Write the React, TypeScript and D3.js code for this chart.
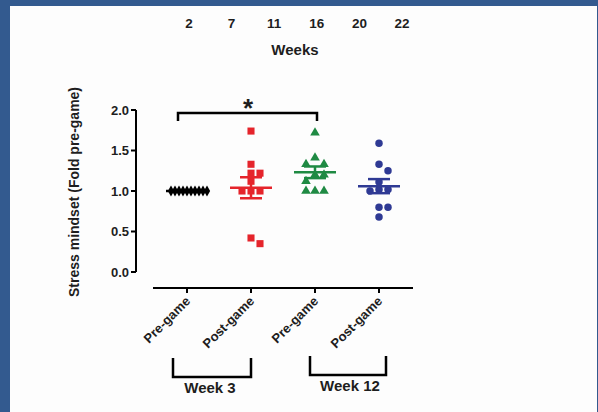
import React from 'react';
import * as d3 from 'd3';

// categories along the bottom axis
const categories = ['Pre-game', 'Post-game', 'Pre-game', 'Post-game'];
// fold change per subject
const preWeek3 = [1, 1, 1, 1, 1, 1, 1, 1, 1, 1];
const postWeek3 = [1.74, 1.33, 1.22, 1.22, 1.12, 1.0, 1.0, 1.0, 0.42, 0.35];
const preWeek12 = [1.72, 1.41, 1.33, 1.33, 1.2, 1.2, 1.12, 1.0, 1.0, 1.0];
const postWeek12 = [1.59, 1.33, 1.25, 1.11, 1.02, 1.02, 1.0, 0.8, 0.8, 0.68];
const weekTicks = [2, 7, 11, 16, 20, 22];
const yTicks = [0, 0.5, 1.0, 1.5, 2.0];

const W = 598;
const H = 412;
const FONT = '"Liberation Sans", Arial, sans-serif';
const INK = '#1e1e1e';

const groups = [
  { values: preWeek3, color: '#000000', shape: d3.symbolDiamond, size: 34, step: 4 },
  { values: postWeek3, color: '#e5242b', shape: d3.symbolSquare, size: 50, step: 9 },
  { values: preWeek12, color: '#1f8a43', shape: d3.symbolTriangle, size: 40, step: 9 },
  { values: postWeek12, color: '#2f3a94', shape: d3.symbolCircle, size: 44, step: 9 },
];

// simple beeswarm: push points sideways when they would overlap
function swarm(values: number[], y: (v: number) => number, step: number) {
  const placed: { dx: number; py: number }[] = [];
  return values.map((v) => {
    const py = y(v);
    let k = 0;
    let dx = 0;
    while (true) {
      dx = k === 0 ? 0 : (k % 2 === 1 ? 1 : -1) * Math.ceil(k / 2) * step;
      const hit = placed.some((p) => Math.abs(p.py - py) < 7 && Math.abs(p.dx - dx) < step * 0.9);
      if (!hit) break;
      k++;
    }
    placed.push({ dx, py });
    return { v, dx, py };
  });
}

export default function App() {
  const x = d3.scaleBand<number>().domain(d3.range(categories.length)).range([155, 411]).padding(0);
  const cx = (i: number) => (x(i) as number) + x.bandwidth() / 2;
  const y = d3.scaleLinear().domain([0, 2]).range([272, 110]);
  const top = d3.scalePoint<number>().domain(weekTicks).range([189, 402]);

  const axisX = 136;
  const baseY = 288;

  return (
    <svg width={W} height={H} style={{ position: 'absolute', left: 0, top: 0, display: 'block' }} fontFamily={FONT} fontWeight="bold">
      <rect x={0} y={0} width={W} height={H} fill="#335a8f" />
      <rect x={10} y={6} width={587} height={H - 6} fill="#fdfdfd" />

      {/* top weeks scale */}
      {weekTicks.map((w) => (
        <text key={w} x={top(w)} y={28} fontSize={13.5} textAnchor="middle" fill={INK}>{w}</text>
      ))}
      <text x={295} y={55} fontSize={15} textAnchor="middle" fill={INK}>Weeks</text>

      {/* y axis */}
      <line x1={axisX} x2={axisX} y1={y(2)} y2={y(0)} stroke="#000" strokeWidth={2} />
      {yTicks.map((t) => (
        <g key={t}>
          <line x1={axisX - 5} x2={axisX} y1={y(t)} y2={y(t)} stroke="#000" strokeWidth={2} />
          <text x={axisX - 7} y={y(t)} dy="0.35em" fontSize={13} textAnchor="end" fill={INK}>{t.toFixed(1)}</text>
        </g>
      ))}
      <text transform={`translate(79,192) rotate(-90)`} fontSize={14} textAnchor="middle" fill={INK}>
        Stress mindset (Fold pre-game)
      </text>

      {/* x axis */}
      <line x1={153} x2={413} y1={baseY} y2={baseY} stroke="#000" strokeWidth={2} />
      {categories.map((c, i) => (
        <g key={i}>
          <line x1={cx(i)} x2={cx(i)} y1={baseY} y2={baseY + 5} stroke="#000" strokeWidth={2} />
          <text transform={`translate(${cx(i) + 4},${baseY + 14}) rotate(-45)`} fontSize={13} textAnchor="end" fill={INK}>{c}</text>
        </g>
      ))}

      {/* week brackets */}
      <path d={`M${cx(0) - 14},358V377H${cx(1)}V358`} fill="none" stroke="#000" strokeWidth={2.5} />
      <text x={210} y={393} fontSize={15} textAnchor="middle" fill={INK}>Week 3</text>
      <path d={`M${cx(2) - 5},356V375H${cx(3) + 7}V356`} fill="none" stroke="#000" strokeWidth={2.5} />
      <text x={350} y={391} fontSize={15} textAnchor="middle" fill={INK}>Week 12</text>

      {/* significance bracket */}
      <path d={`M${cx(0) - 9},121V113H${cx(2) + 2}V121`} fill="none" stroke="#000" strokeWidth={2.5} />
      <text x={248} y={117} fontSize={26} textAnchor="middle" fill={INK}>*</text>

      {/* points with mean and SEM */}
      {groups.map((g, i) => {
        const pts = swarm(g.values, y, g.step);
        const mean = d3.mean(g.values) as number;
        const sem = (d3.deviation(g.values) || 0) / Math.sqrt(g.values.length);
        const sym = d3.symbol().type(g.shape).size(g.size)() as string;
        const c = cx(i);
        return (
          <g key={i}>
            {pts.map((p, j) => (
              <path key={j} d={sym} transform={`translate(${c + p.dx},${p.py})`} fill={g.color} />
            ))}
            <line x1={c - 21} x2={c + 21} y1={y(mean)} y2={y(mean)} stroke={g.color} strokeWidth={2.5} />
            {sem > 0 && (
              <g stroke={g.color} strokeWidth={2.5}>
                <line x1={c} x2={c} y1={y(mean - sem)} y2={y(mean + sem)} />
                <line x1={c - 11} x2={c + 11} y1={y(mean + sem)} y2={y(mean + sem)} />
                <line x1={c - 11} x2={c + 11} y1={y(mean - sem)} y2={y(mean - sem)} />
              </g>
            )}
          </g>
        );
      })}
    </svg>
  );
}
